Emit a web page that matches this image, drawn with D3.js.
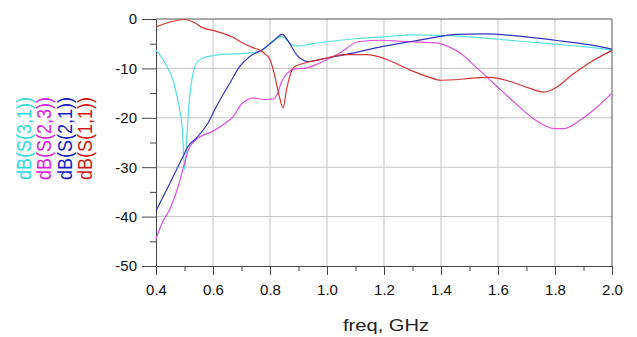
<!DOCTYPE html>
<html>
<head>
<meta charset="utf-8">
<script src="https://cdn.jsdelivr.net/npm/d3@7"></script>
<style>
  body { margin: 0; background: #fff; }
  text { font-family: "Liberation Sans", Arial, sans-serif; }
</style>
</head>
<body>
<script>
// series values (freq in GHz, dB)
var s31Freq = [0.40, 0.42, 0.44, 0.46, 0.472, 0.482, 0.492, 0.501, 0.510, 0.517, 0.524, 0.532, 0.542, 0.565, 0.60, 0.65, 0.70, 0.75, 0.78, 0.81, 0.84, 0.86, 0.88, 0.90, 0.95, 1.00, 1.10, 1.20, 1.30, 1.40, 1.50, 1.60, 1.70, 1.80, 1.90, 2.00];
var s31Db = [-6.3, -7.8, -9.8, -12.4, -15.2, -18, -22, -30.5, -22, -16.5, -13, -10.5, -8.9, -7.9, -7.4, -7.1, -7.0, -6.7, -6.0, -4.4, -3.5, -4.3, -5.3, -5.5, -5.0, -4.6, -4.0, -3.6, -3.2, -3.3, -3.6, -4.1, -4.6, -5.1, -5.6, -6.3];

var s23Freq = [0.40, 0.42, 0.45, 0.48, 0.50, 0.515, 0.53, 0.55, 0.60, 0.65, 0.67, 0.70, 0.74, 0.78, 0.81, 0.825, 0.84, 0.86, 0.89, 0.93, 0.975, 1.045, 1.11, 1.19, 1.26, 1.33, 1.39, 1.43, 1.47, 1.52, 1.59, 1.66, 1.73, 1.80, 1.83, 1.89, 1.95, 2.00];
var s23Db = [-44.5, -41.5, -38.3, -33.5, -29.2, -26.3, -25, -24, -22.7, -20.8, -19.8, -17.2, -16.0, -16.3, -16.2, -15.3, -12.8, -11.0, -10.1, -9.9, -8.9, -6.9, -4.6, -4.3, -4.5, -4.7, -4.9, -5.7, -7.0, -9.6, -13.3, -17.0, -20.4, -22.2, -22.2, -20.4, -17.7, -15.0];

var s21Freq = [0.40, 0.437, 0.472, 0.495, 0.512, 0.542, 0.583, 0.612, 0.659, 0.694, 0.729, 0.776, 0.811, 0.843, 0.864, 0.893, 0.934, 1.00, 1.09, 1.20, 1.30, 1.40, 1.45, 1.55, 1.68, 1.80, 1.92, 2.00];
var s21Db = [-38.8, -34.6, -30.5, -27.8, -25.8, -24.1, -21, -17.7, -13, -9.6, -7.6, -6.1, -4.5, -3.1, -4.5, -7.2, -8.6, -7.9, -6.9, -5.5, -4.5, -3.5, -3.1, -3.0, -3.5, -4.3, -5.2, -6.1];

var s11Freq = [0.40, 0.45, 0.50, 0.53, 0.565, 0.60, 0.635, 0.67, 0.706, 0.74, 0.764, 0.785, 0.80, 0.817, 0.832, 0.846, 0.858, 0.87, 0.881, 0.905, 0.93, 1.00, 1.06, 1.14, 1.21, 1.29, 1.35, 1.40, 1.45, 1.50, 1.57, 1.64, 1.71, 1.76, 1.80, 1.86, 1.92, 2.00];
var s11Db = [-1.6, -0.6, -0.1, -0.6, -1.8, -2.3, -2.9, -3.7, -4.9, -5.8, -6.3, -7.2, -8.2, -11.6, -15.5, -18.0, -14.3, -11.5, -9.9, -9.2, -8.8, -7.9, -7.2, -7.2, -8.2, -10.3, -11.6, -12.4, -12.3, -12.0, -11.8, -12.6, -14.0, -14.8, -14.0, -11.3, -8.9, -6.35];

var seriesNames = ["dB(S(3,1))", "dB(S(2,3))", "dB(S(2,1))", "dB(S(1,1))"];
var lineColors = ["#55e0e0", "#dc50dc", "#3434c0", "#d23636"];
var textColors = ["#33dada", "#dc22dc", "#1a1ac4", "#d01a1a"];

var xTicks = [0.4, 0.6, 0.8, 1.0, 1.2, 1.4, 1.6, 1.8, 2.0];
var xMinor = [0.5, 0.7, 0.9, 1.1, 1.3, 1.5, 1.7, 1.9];
var yTicks = [0, -10, -20, -30, -40, -50];
var yMinor = [-5, -15, -25, -35, -45];

var width = 637;
var height = 337;
var plotLeft = 156, plotRight = 612, plotTop = 19, plotBottom = 266;

var svg = d3.select("body").append("svg")
    .attr("width", width)
    .attr("height", height);

var x = d3.scaleLinear().domain([0.4, 2.0]).range([plotLeft, plotRight]);
var y = d3.scaleLinear().domain([-50, 0]).range([plotBottom, plotTop]);

// grid
svg.append("g").selectAll("line")
    .data(xTicks.slice(1, -1))
    .enter().append("line")
    .attr("x1", d => x(d)).attr("x2", d => x(d))
    .attr("y1", plotTop).attr("y2", plotBottom)
    .attr("stroke", "#c4c4c4");
svg.append("g").selectAll("line")
    .data(yTicks.slice(1, -1))
    .enter().append("line")
    .attr("x1", plotLeft).attr("x2", plotRight)
    .attr("y1", d => y(d)).attr("y2", d => y(d))
    .attr("stroke", "#c4c4c4");

// frame top + right
svg.append("path")
    .attr("d", "M" + plotLeft + "," + plotTop + "H" + plotRight + "V" + plotBottom)
    .attr("fill", "none")
    .attr("stroke", "#555");

// axes
svg.append("g")
    .attr("transform", "translate(0," + plotBottom + ")")
    .call(d3.axisBottom(x).tickValues(xTicks).tickFormat(d3.format(".1f")).tickSize(9).tickSizeOuter(0).tickPadding(9));
svg.append("g")
    .attr("transform", "translate(0," + plotBottom + ")")
    .call(d3.axisBottom(x).tickValues(xMinor).tickFormat("").tickSize(5).tickSizeOuter(0))
    .select(".domain").remove();

svg.append("g")
    .attr("transform", "translate(" + plotLeft + ",0)")
    .call(d3.axisLeft(y).tickValues(yTicks).tickFormat(d => String(d)).tickSize(14).tickSizeOuter(0).tickPadding(5));
svg.append("g")
    .attr("transform", "translate(" + plotLeft + ",0)")
    .call(d3.axisLeft(y).tickValues(yMinor).tickFormat("").tickSize(6).tickSizeOuter(0))
    .select(".domain").remove();

svg.selectAll(".domain, .tick line").attr("stroke", "#444");
svg.selectAll(".tick text")
    .attr("font-size", "15px")
    .attr("font-family", "Liberation Sans, Arial, sans-serif")
    .attr("fill", "#111");

// x axis title
svg.append("text")
    .attr("x", 343)
    .attr("y", 331)
    .attr("font-size", "17px")
    .attr("textLength", 86)
    .attr("lengthAdjust", "spacingAndGlyphs")
    .attr("fill", "#222")
    .text("freq, GHz");

// curves
var line = d3.line()
    .x(d => x(d[0]))
    .y(d => y(d[1]))
    .curve(d3.curveMonotoneX);

var allSeries = [
    d3.zip(s31Freq, s31Db),
    d3.zip(s23Freq, s23Db),
    d3.zip(s21Freq, s21Db),
    d3.zip(s11Freq, s11Db)
];

svg.append("g").selectAll("path")
    .data(allSeries)
    .enter().append("path")
    .attr("d", line)
    .attr("fill", "none")
    .attr("stroke", (d, i) => lineColors[i])
    .attr("stroke-width", 1.2);

// rotated legend on the left
svg.append("g").selectAll("text")
    .data(seriesNames)
    .enter().append("text")
    .attr("transform", (d, i) => "translate(" + (31 + i * 20.3) + ",180) scale(1.15,1) rotate(-90)")
    .attr("font-size", "18px")
    .attr("fill", (d, i) => textColors[i])
    .text(d => d);
</script>
</body>
</html>
